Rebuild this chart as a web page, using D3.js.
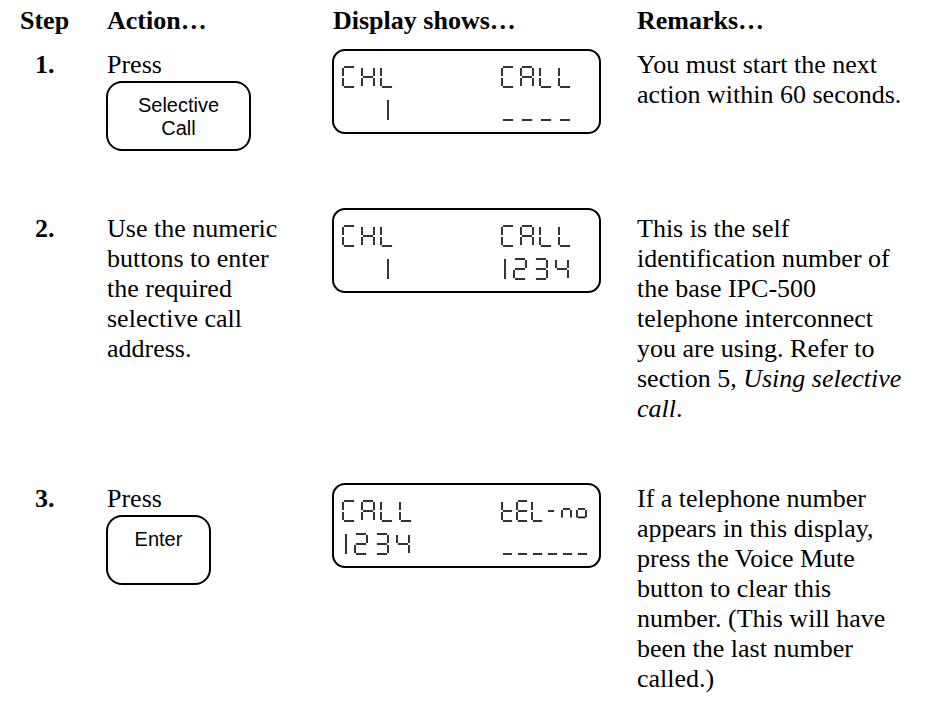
<!DOCTYPE html>
<html><head><meta charset="utf-8">
<script src="https://cdn.jsdelivr.net/npm/d3@7"></script>
<style>html,body{margin:0;padding:0;background:#fff;}svg{display:block}</style>
</head><body>
<svg id="chart" width="934" height="701"></svg>
<script>
// ---------- DATA ----------
const headers = ["Step", "Action\u2026", "Display shows\u2026", "Remarks\u2026"];
const headerKeys = ["step", "action", "display", "remarks"];
const stepLabels = ["1.", "2.", "3."];
const actionTexts = [
  ["Press"],
  ["Use the numeric", "buttons to enter", "the required", "selective call", "address."],
  ["Press"]
];
const buttonLabels = [["Selective", "Call"], [], ["Enter"]];
const displayLine1 = [["CHL", "CALL"], ["CHL", "CALL"], ["CALL", "tEL-no"]];
const displayLine2 = [["  1", "____"], ["  1", "1234"], ["1234", "______"]];
const remarkTexts = [
  ["You must start the next", "action within 60 seconds."],
  ["This is the self", "identification number of", "the base IPC-500", "telephone interconnect",
   "you are using. Refer to", "section 5, *Using selective*", "*call*."],
  ["If a telephone number", "appears in this display,", "press the Voice Mute", "button to clear this",
   "number. (This will have", "been the last number", "called.)"]
];

// ---------- LAYOUT ----------
const W = 934, H = 701;
const serif = "'Liberation Serif','Times New Roman',Times,serif";
const sans = "'Liberation Sans',Arial,Helvetica,sans-serif";
const svg = d3.select("#chart");

const colX = d3.scaleOrdinal().domain(headerKeys).range([20, 107, 333, 637]);
const rowBase = d3.scaleOrdinal().domain([0, 1, 2]).range([73, 237, 507]);
const lcdTopScale = d3.scaleOrdinal().domain([0, 1, 2]).range([50, 209, 484]);
const lineY = d3.scaleLinear().domain([0, 1]).range([0, 30]);
const btnLineY = d3.scaleLinear().domain([0, 1]).range([30, 52.5]);
const buttonWidths = [143, null, 103];
const fontBody = 26;

// headers
svg.append("g").selectAll("text").data(headers).join("text")
  .attr("x", (d, i) => colX(headerKeys[i])).attr("y", 29)
  .attr("font-family", serif).attr("font-weight", "bold").attr("font-size", fontBody)
  .attr("fill", "#000").text(d => d);

// step numbers
svg.append("g").selectAll("text").data(stepLabels).join("text")
  .attr("x", 35).attr("y", (d, i) => rowBase(i))
  .attr("font-family", serif).attr("font-weight", "bold").attr("font-size", fontBody)
  .attr("fill", "#000").text(d => d);

// action texts
actionTexts.forEach((lines, r) => {
  svg.append("g").selectAll("text").data(lines).join("text")
    .attr("x", colX("action")).attr("y", (d, j) => rowBase(r) + lineY(j))
    .attr("font-family", serif).attr("font-size", fontBody).attr("fill", "#000").text(d => d);
});

// buttons
buttonLabels.forEach((labels, r) => {
  if (!labels.length) return;
  const x = colX("action"), y = rowBase(r) + 9, w = buttonWidths[r], h = 68;
  const g = svg.append("g");
  g.append("rect").attr("x", x).attr("y", y).attr("width", w).attr("height", h)
    .attr("rx", 15).attr("ry", 15).attr("fill", "none").attr("stroke", "#000").attr("stroke-width", 2);
  g.selectAll("text").data(labels).join("text")
    .attr("x", x + w / 2).attr("y", (d, j) => y + btnLineY(j))
    .attr("text-anchor", "middle").attr("font-family", sans).attr("font-size", 20)
    .attr("fill", "#000").text(d => d);
});

// remarks (with italic segments marked *...*)
remarkTexts.forEach((lines, r) => {
  const t = svg.append("g").selectAll("text").data(lines).join("text")
    .attr("x", colX("remarks")).attr("y", (d, j) => rowBase(r) + lineY(j))
    .attr("font-family", serif).attr("font-size", fontBody).attr("fill", "#000");
  t.each(function (d) {
    const parts = d.split("*");
    const sel = d3.select(this);
    parts.forEach((p, k) => {
      if (!p) return;
      sel.append("tspan").attr("font-style", k % 2 ? "italic" : "normal").text(p);
    });
  });
});

// ---------- 7-segment LCD ----------
const SEGS = {
  C: "adef", H: "bcefg", L: "def", A: "abcefg", E: "adefg", t: "defg",
  "2": "abged", "3": "abgcd", "4": "fgbc", "_": "d", "-": "g", n: "aec", o: "aecd", "1": "1"
};
function segLines(ch, x, y, w, h) {
  const gp = 0.9;
  let yy = y, hh = h;
  if (ch === "n" || ch === "o") { yy = y + h * 0.4; hh = h * 0.42; }
  const m = yy + hh / 2;
  const S = {
    a: [x + gp, yy, x + w - gp, yy], b: [x + w, yy + gp, x + w, m - gp], c: [x + w, m + gp, x + w, yy + hh - gp],
    d: [x + gp, yy + hh, x + w - gp, yy + hh], e: [x, m + gp, x, yy + hh - gp], f: [x, yy + gp, x, m - gp],
    g: [x + gp, m, x + w - gp, m]
  };
  if (ch === "n" || ch === "o") {
    S.e = [x, yy + gp, x, yy + hh]; S.c = [x + w, yy + gp, x + w, yy + hh];
  }
  if (ch === "1") return [[x + 3, y, x + 3, y + h]];
  return (SEGS[ch] || "").split("").map(k => S[k]);
}
function layoutRun(str, x0, compact) {
  const out = [];
  let x = x0;
  for (const ch of str) {
    let adv, w;
    if (ch === "1") { adv = 12; w = 0; }
    else if (ch === " ") { adv = 21; w = 0; }
    else if (/[0-9]/.test(ch)) { adv = compact ? 15 : 21; w = compact ? 11 : 12; }
    else if (ch === "-") { adv = 15; w = 8; }
    else if (ch === "n" || ch === "o") { adv = compact ? 15 : 13; w = 9; }
    else { adv = compact ? 15 : 19; w = compact ? 11 : 12; }
    if (ch !== " ") out.push({ ch, x, w });
    x += adv;
  }
  return out;
}
const lcdX = 333, lcdW = 267, lcdH = 83;
displayLine1.forEach((l1, r) => {
  const top = lcdTopScale(r);
  const g = svg.append("g");
  g.append("rect").attr("x", lcdX).attr("y", top).attr("width", lcdW).attr("height", lcdH)
    .attr("rx", 12).attr("ry", 12).attr("fill", "none").attr("stroke", "#000").attr("stroke-width", 2);
  const rows = [l1, displayLine2[r]];
  rows.forEach((pair, li) => {
    const gy = top + (li === 0 ? 17 : 50), gh = 20;
    pair.forEach((str, side) => {
      const compact = side === 1 && r === 2;
      const x0 = side === 0 ? lcdX + 10 : lcdX + 169;
      const glyphs = layoutRun(str, x0, compact);
      const segs = [];
      glyphs.forEach(gl => segLines(gl.ch, gl.x, gy, gl.w, gh).forEach(s => segs.push(s)));
      g.append("g").selectAll("line").data(segs).join("line")
        .attr("x1", d => d[0]).attr("y1", d => d[1]).attr("x2", d => d[2]).attr("y2", d => d[3])
        .attr("stroke", "#000").attr("stroke-width", 1.6).attr("stroke-linecap", "butt");
    });
  });
});
</script>
</body></html>
